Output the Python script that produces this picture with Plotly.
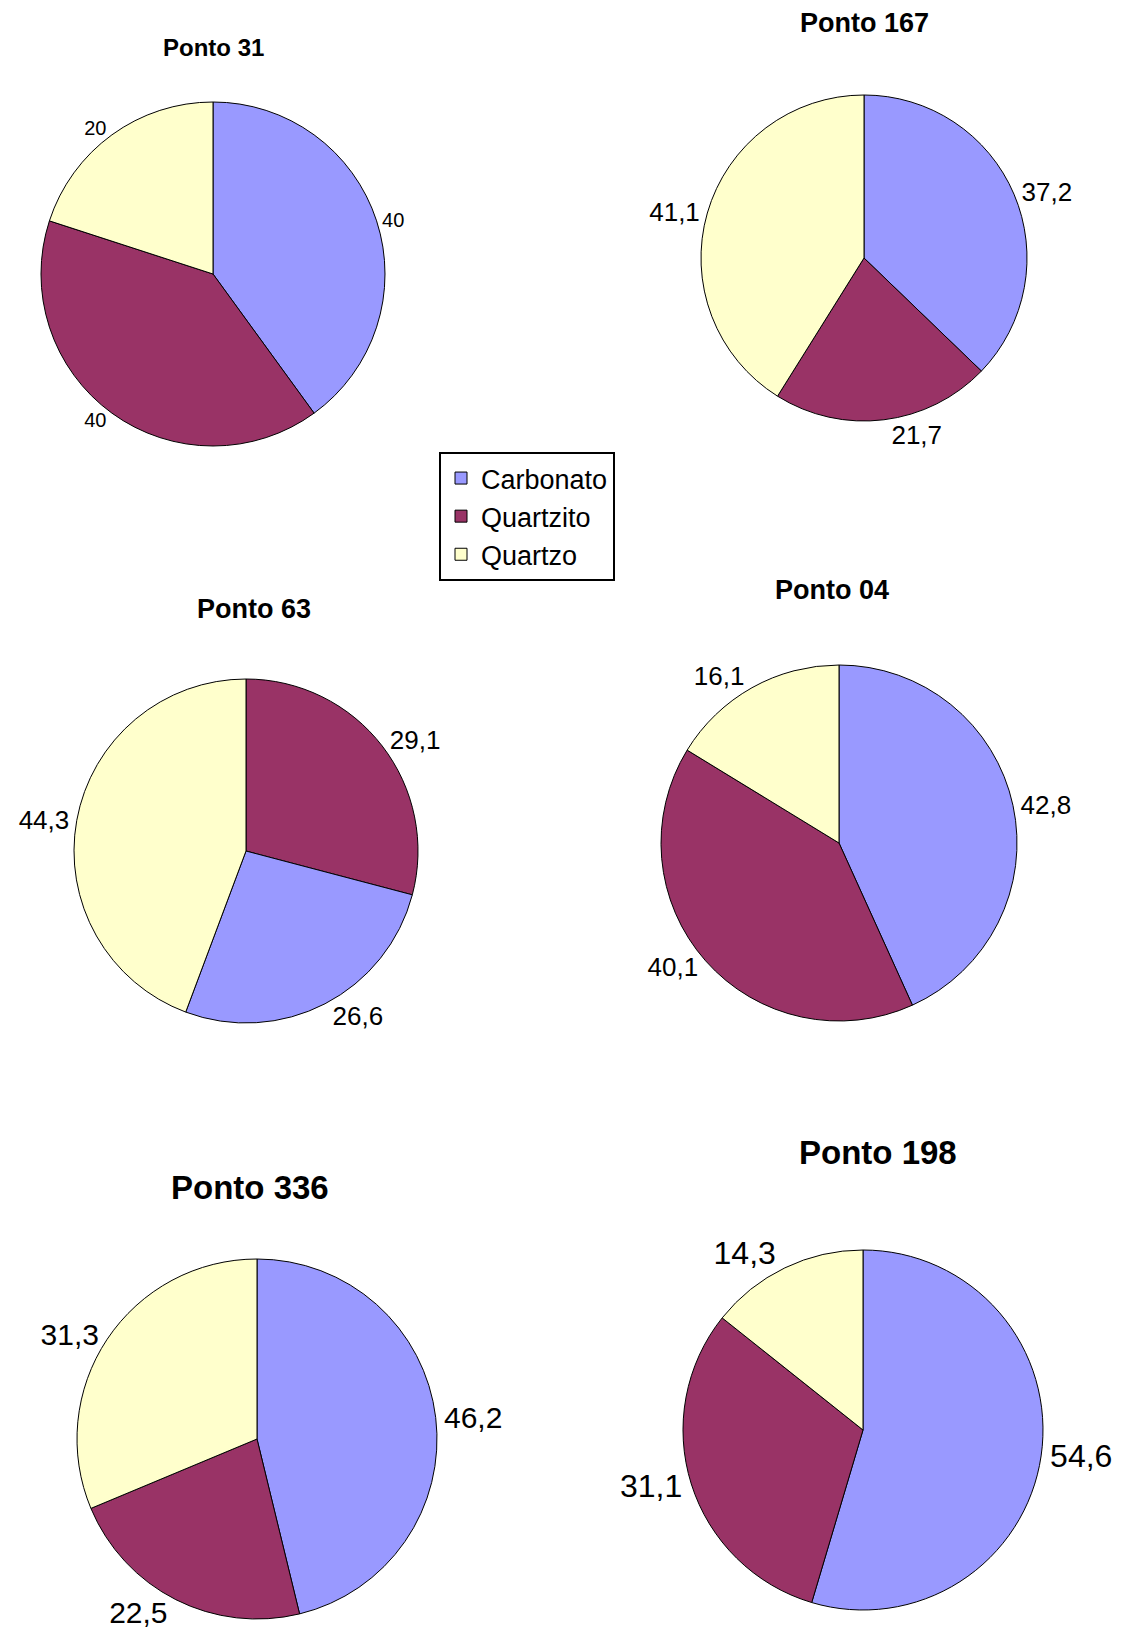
import plotly.graph_objects as go

# Sample points and their composition (%)
points = ["Ponto 31", "Ponto 167", "Ponto 63", "Ponto 04", "Ponto 336", "Ponto 198"]

labels_31 = ["Carbonato", "Quartzito", "Quartzo"]
values_31 = [40, 40, 20]

labels_167 = ["Carbonato", "Quartzito", "Quartzo"]
values_167 = [37.2, 21.7, 41.1]

labels_63 = ["Quartzito", "Carbonato", "Quartzo"]
values_63 = [29.1, 26.6, 44.3]

labels_04 = ["Carbonato", "Quartzito", "Quartzo"]
values_04 = [42.8, 40.1, 16.1]

labels_336 = ["Carbonato", "Quartzito", "Quartzo"]
values_336 = [46.2, 22.5, 31.3]

labels_198 = ["Carbonato", "Quartzito", "Quartzo"]
values_198 = [54.6, 31.1, 14.3]

series_labels = [labels_31, labels_167, labels_63, labels_04, labels_336, labels_198]
series_values = [values_31, values_167, values_63, values_04, values_336, values_198]

colors = {"Carbonato": "#9999FF", "Quartzito": "#993366", "Quartzo": "#FFFFCC"}

W, H = 1130, 1652
FONT = "Liberation Sans, Arial, sans-serif"

# Pie placement in pixels: (center x, center y, radius)
geometry = [
    (213, 274, 172),
    (864, 258, 163),
    (246, 851, 172),
    (839, 843, 178),
    (257, 1439, 180),
    (863, 1430, 180),
]
label_sizes = [20, 26, 26, 26, 30, 32]

# Title placement in pixels: (x, y, font size)
title_pos = [
    (213, 47, 24),
    (864, 23, 27),
    (254, 609, 27),
    (832, 590, 27),
    (250, 1187, 33),
    (878, 1152, 33),
]


def fmt(v):
    return f"{v:g}".replace(".", ",")


fig = go.Figure()
for name, labs, vals, (cx, cy, r), fs in zip(points, series_labels, series_values,
                                              geometry, label_sizes):
    fig.add_trace(go.Pie(
        name=name,
        labels=labs,
        values=vals,
        text=[fmt(v) for v in vals],
        textinfo="text",
        textposition="outside",
        textfont=dict(family=FONT, size=fs, color="black"),
        hoverinfo="label+value",
        sort=False,
        direction="clockwise",
        rotation=0,
        marker=dict(colors=[colors[l] for l in labs],
                    line=dict(color="black", width=1)),
        domain=dict(x=[(cx - r) / W, (cx + r) / W],
                    y=[1 - (cy + r) / H, 1 - (cy - r) / H]),
    ))

annotations = []
for name, (tx, ty, ts) in zip(points, title_pos):
    annotations.append(dict(
        text=f"<b>{name}</b>", x=tx / W, y=1 - ty / H,
        xref="paper", yref="paper", xanchor="center", yanchor="middle",
        showarrow=False, font=dict(family=FONT, size=ts, color="black"),
    ))

fig.update_layout(
    width=W, height=H,
    margin=dict(l=0, r=0, t=0, b=0),
    paper_bgcolor="white",
    plot_bgcolor="white",
    annotations=annotations,
    showlegend=True,
    legend=dict(
        x=439 / W, y=1 - 452 / H, xanchor="left", yanchor="top",
        bgcolor="white", bordercolor="black", borderwidth=2,
        font=dict(family=FONT, size=27, color="black"),
    ),
)

fig.write_html("out.html")
